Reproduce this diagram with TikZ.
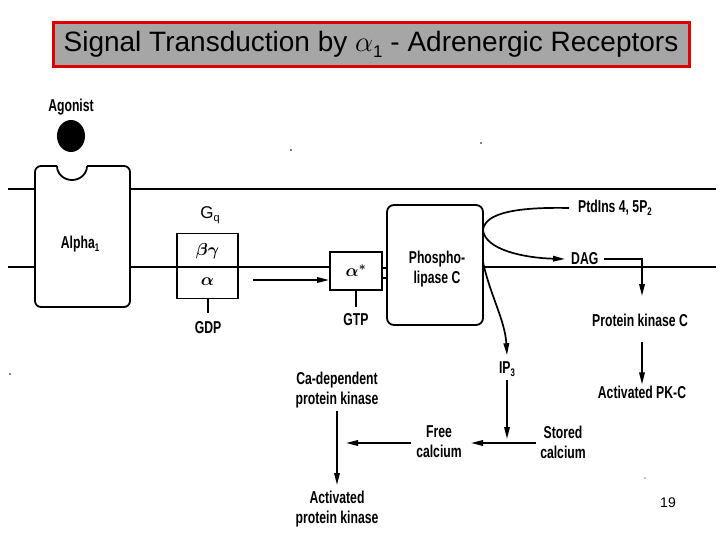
\documentclass[tikz,border=0pt]{standalone}
\usepackage{fontspec}
\usepackage{bm}
\usetikzlibrary{arrows.meta}
\setmainfont{Liberation Sans}
\newfontfamily\labfont[FakeStretch=0.71]{Liberation Sans}
\newcommand{\mysub}[1]{\raisebox{-0.35ex}{\fontsize{11}{11}\selectfont #1}}
\newcommand{\titlesub}[1]{\raisebox{-0.4ex}{\fontsize{17}{17}\selectfont #1}}
\definecolor{titlegrey}{RGB}{166,166,166}
\definecolor{titlered}{RGB}{225,0,0}
\tikzset{
  lab/.style={font=\labfont\bfseries\fontsize{17.2}{20}\selectfont, align=center, inner sep=1pt},
  greek/.style={font=\fontsize{18}{18}\selectfont, inner sep=1pt},
  memb/.style={line width=2.2pt},
  boxline/.style={draw, line width=1.8pt},
  arr/.style={line width=1.7pt, -{Triangle[length=12pt,width=5.5pt]}},
  plain/.style={line width=1.7pt}
}
\begin{document}
\begin{tikzpicture}[x=1pt,y=-1pt]
\useasboundingbox (0,0) rectangle (720,540);
% title
\node[draw=titlered, fill=titlegrey, line width=3pt, minimum width=636pt, minimum height=44pt, inner sep=0pt, font=\fontsize{28}{30}\selectfont] (title) at (371,44.5) {Signal Transduction by \scalebox{1.15}{$\alpha$}\titlesub{1} - Adrenergic Receptors};
% receptor
\draw[line width=1.8pt, rounded corners=6pt] (57,166) -- (35,166) -- (35,307) -- (130,307) -- (130,166) -- (87,166);
\draw[line width=1.8pt] (87,166) arc[start angle=0, end angle=-180, x radius=15pt, y radius=14pt];
\fill (71,136) ellipse[x radius=14pt, y radius=16pt];
\node[lab] (agonist) at (71,107) {Agonist};
\node[lab] (alpha1) at (80,244) {Alpha\mysub{1}};
% membrane
\draw[memb] (8,189) -- (35,189);
\draw[memb] (130,189) -- (716,189);
\draw[memb] (8,267) -- (35,267);
\draw[memb] (130,267) -- (330,267);
\draw[memb] (483,267) -- (716,267);
% Gq
\node[boxline, minimum width=61pt, minimum height=65pt, inner sep=0pt] (gq) at (207.5,266) {};
\node[font=\fontsize{17}{17}\selectfont] (gqlab) at (210,215) {G\mysub{q}};
\node[greek] (bg) at (207.5,251) {$\bm{\beta\gamma}$};
\node[greek] (ga) at (207.5,282) {$\bm{\alpha}$};
\coordinate (gdpstub) at (208,313);
\draw[plain] (gq.south) ++(0.5,0) -- (gdpstub);
\node[lab] (gdp) at (208,328) {GDP};
% alpha*
\node[boxline, greek, minimum width=52pt, minimum height=38pt, inner sep=0pt] (astar) at (356,271) {$\bm{\alpha^{*}}$};
\coordinate (arrstart) at (253,280);
\draw[arr] (arrstart) -- (astar.west |- arrstart);
\coordinate (gtpstub) at (356,307);
\draw[plain] (astar.south) -- (gtpstub);
\node[lab] (gtp) at (356,320) {GTP};
% PLC
\node[boxline, rounded corners=7pt, minimum width=96pt, minimum height=120pt, inner sep=0pt] (plc) at (435,265) {};
\node[lab] (plclab) at (437,269) {Phospho-\\lipase C};
\draw[line width=1.5pt] (astar.east |- 0,268) -- (plc.west |- 0,268);
\draw[line width=1.5pt] (astar.east |- 0,278) -- (plc.west |- 0,278);
% PtdIns / DAG
\node[lab, anchor=west] (ptd) at (577,208) {PtdIns 4, 5P\mysub{2}};
\node[lab, anchor=west] (dag) at (570,259) {DAG};
\coordinate (touch) at (483,230);
\draw[arr] ([xshift=-8pt]ptd.west) .. controls (520,207) and (485,212) .. (touch) .. controls (485,250) and (525,258) .. ([xshift=-5pt]dag.west);
\node[lab] (pkc) at (640,320) {Protein kinase C};
\coordinate (dagbend) at (642,259);
\draw[arr] (dag.east) ++(4,0) -- (dagbend) -- (642,296);
\node[lab] (apkc) at (642,392) {Activated PK-C};
\draw[arr] (642,342) -- (apkc.north);
% IP3
\node[lab] (ip3) at (507,369) {IP\mysub{3}};
\draw[arr] (483,262) .. controls (490,295) and (505,320) .. ([yshift=5pt]ip3.north);
\node[lab] (stored) at (563,442) {Stored\\calcium};
\node[lab] (free) at (439,442) {Free\\calcium};
\draw[arr] (ip3.south) ++(0,2) -- (507,439);
\draw[arr] (stored.west) ++(-3,1) -- (471,443);
\node[lab] (cadep) at (337,390) {Ca-dependent\\protein kinase};
\draw[arr] (free.west) ++(-4,1) -- (346,443);
\node[lab] (apk) at (337,509) {Activated\\protein kinase};
\draw[arr] (cadep.south) ++(0,2) -- (337,485);
% page number and specks
\node[font=\fontsize{14}{14}\selectfont] (pg) at (668,503) {19};
\fill (291,150) circle (0.8pt);
\fill (481,143) circle (0.8pt);
\fill (10,374) circle (0.8pt);
\fill (645,478) circle (0.6pt);
\end{tikzpicture}
\end{document}
